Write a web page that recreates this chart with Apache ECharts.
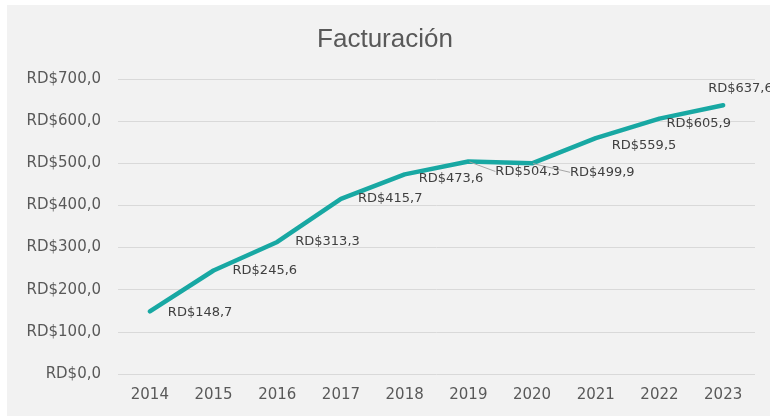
<!DOCTYPE html>
<html>
<head>
<meta charset="utf-8">
<script src="https://cdn.jsdelivr.net/npm/echarts@6/dist/echarts.min.js"></script>
<style>
  html, body { margin: 0; padding: 0; background: #fff; }
  #chart { width: 770px; height: 416px; }
</style>
</head>
<body>
<div id="chart"></div>
<script>
// datos
const years = ['2014', '2015', '2016', '2017', '2018', '2019', '2020', '2021', '2022', '2023'];
const facturacion = [148.7, 245.6, 313.3, 415.7, 473.6, 504.3, 499.9, 559.5, 605.9, 637.6];
// desplazamiento de cada etiqueta respecto a su punto
const labelMoves = [[17, 1], [18, 0], [17, 0], [16, 0], [13, 4], [26, 10], [37, 9], [15, 7], [6, 5], [-16, -17]];
// etiquetas con línea guía (2019, 2020)
const guideIdx = [5, 6];

const fmt = v => 'RD$' + v.toFixed(1).replace('.', ',');

const chartDom = document.getElementById('chart');
const myChart = echarts.init(chartDom);

const option = {
  backgroundColor: '#ffffff',
  animation: false,
  graphic: [{
    type: 'rect',
    shape: { x: 7, y: 5, width: 770, height: 420 },
    style: { fill: '#f2f2f2' },
    z: -10
  }],
  title: {
    text: 'Facturación',
    left: 'center',
    top: 22,
    textStyle: { fontFamily: 'Liberation Sans', fontSize: 26, fontWeight: 'normal', color: '#595959' }
  },
  grid: { left: 118, right: 15, top: 79, bottom: 42 },
  xAxis: {
    type: 'category',
    data: years,
    boundaryGap: true,
    axisLine: { show: false },
    axisTick: { show: false },
    axisLabel: { fontFamily: 'DejaVu Sans', fontSize: 15, color: '#595959', margin: 14 }
  },
  yAxis: {
    type: 'value',
    min: 0,
    max: 700,
    interval: 100,
    axisLabel: {
      fontFamily: 'DejaVu Sans', fontSize: 15, color: '#595959', margin: 17,
      formatter: fmt
    },
    splitLine: { lineStyle: { color: '#d9d9d9', width: 1 } }
  },
  series: [{
    type: 'line',
    data: facturacion.map((v, i) => ({
      value: v,
      labelLine: { show: guideIdx.includes(i) }
    })),
    symbol: 'circle',
    symbolSize: 2,
    showSymbol: true,
    itemStyle: { color: '#18a8a3' },
    lineStyle: { color: '#18a8a3', width: 4.5, cap: 'round', join: 'round' },
    label: {
      show: true,
      position: 'right',
      distance: 0,
      fontFamily: 'DejaVu Sans',
      fontSize: 13,
      color: '#404040',
      formatter: p => fmt(p.value)
    },
    labelLine: {
      show: true,
      lineStyle: { color: '#a6a6a6', width: 1 }
    },
    labelLayout: p => {
      const m = labelMoves[p.dataIndex];
      return { dx: m[0], dy: m[1] };
    }
  }]
};

option && myChart.setOption(option);
</script>
</body>
</html>
